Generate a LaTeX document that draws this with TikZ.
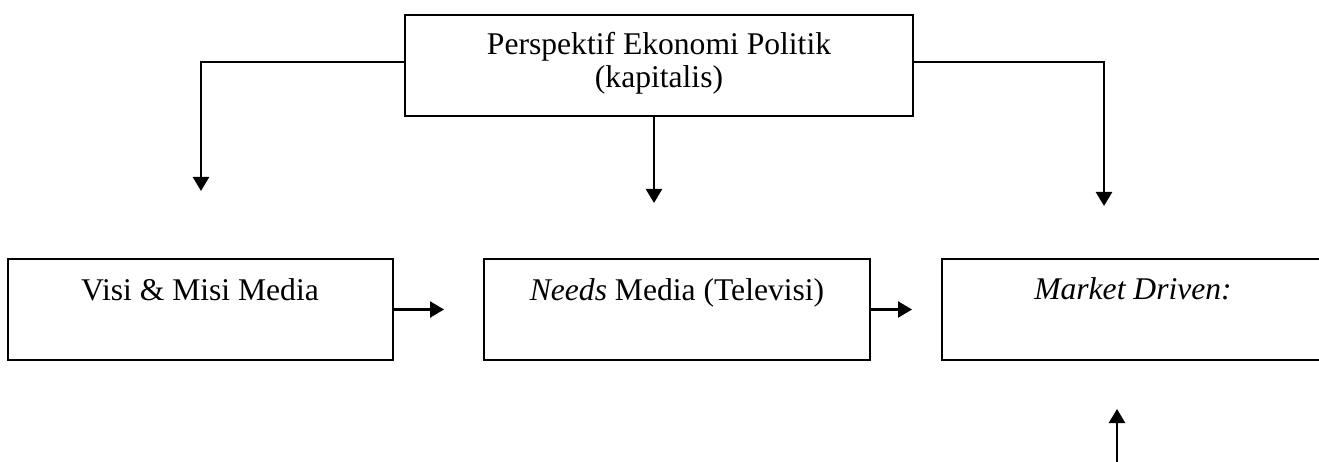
\documentclass[tikz,border=0pt]{standalone}
\usepackage{fontspec}
\setmainfont{Liberation Serif}
\usetikzlibrary{arrows.meta}
\begin{document}
\begin{tikzpicture}[x=1pt,y=-1pt,
  box/.style={draw=black, line width=2.2pt, rectangle, inner sep=0pt},
  txt/.style={font=\fontsize{31.6}{36}\selectfont, inner sep=0pt, anchor=base},
  arr/.style={line width=2.4pt, -{Triangle[width=16pt,length=14pt]}}]
\useasboundingbox (0,0) rectangle (1319,462);
% boxes
\node[box, minimum width=508pt, minimum height=101pt] (top) at (659,65.5) {};
\node[box, minimum width=385pt, minimum height=101pt] (visi) at (200.5,309.5) {};
\node[box, minimum width=386pt, minimum height=101pt] (needs) at (677,309.5) {};
\node[box, minimum width=382pt, minimum height=101pt] (market) at (1133,309.5) {};
% texts
\node[txt] (t1) at (659,55) {Perspektif Ekonomi Politik};
\node[txt] (t2) at (659,88) {(kapitalis)};
\node[txt] (t3) at (200,300) {Visi \& Misi Media};
\node[txt] (t4) at (677,300) {\textit{Needs} Media (Televisi)};
\node[txt] (t5) at (1133,299) {\textit{Market Driven:}};
% free ends
\coordinate (lt) at (201,191);
\coordinate (mt) at (654,203);
\coordinate (rt) at (1104,206);
\coordinate (a1) at (444,309.5);
\coordinate (a2) at (912,309.5);
\coordinate (b0) at (1117,470);
\coordinate (b1) at (1117,409);
% connectors
\draw[arr] (top.west) ++(0,-3.5) -| (lt);
\draw[arr] (top.south -| mt) -- (mt);
\draw[arr] (top.east) ++(0,-3.5) -| (rt);
\draw[arr] (visi.east) -- (a1);
\draw[arr] (needs.east) -- (a2);
\draw[arr] (b0) -- (b1);
\end{tikzpicture}
\end{document}
